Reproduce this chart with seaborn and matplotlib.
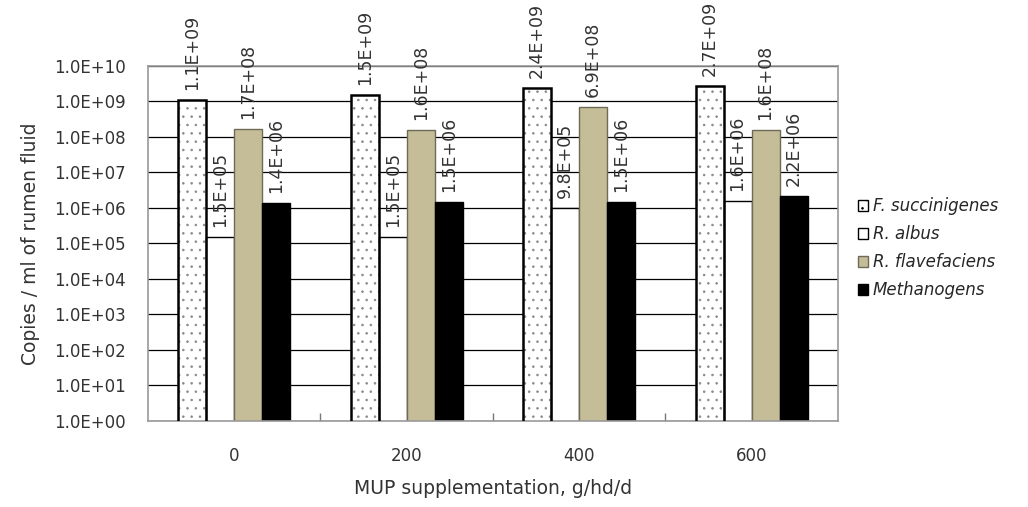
import matplotlib
matplotlib.use('Agg')
import matplotlib.pyplot as plt
import matplotlib.ticker as mticker
from matplotlib.patches import Rectangle
import seaborn as sns
import pandas as pd

doses = ['0', '200', '400', '600']
species = ['F. succinigenes', 'R. albus', 'R. flavefaciens', 'Methanogens']
f_succ = [1.1e9, 1.5e9, 2.4e9, 2.7e9]
r_albus = [1.5e5, 1.5e5, 9.8e5, 1.6e6]
r_flav = [1.7e8, 1.6e8, 6.9e8, 1.6e8]
methano = [1.4e6, 1.5e6, 1.5e6, 2.2e6]

sns.set_theme(style='white')
plt.rcParams['font.family'] = ['DejaVu Sans']
plt.rcParams['hatch.linewidth'] = 0.6

rows = []
for name, vals in zip(species, [f_succ, r_albus, r_flav, methano]):
    for d, v in zip(doses, vals):
        rows.append({'Dose': d, 'Species': name, 'Copies': v})
df = pd.DataFrame(rows)

fills = ['white', 'white', '#C4BD97', 'black']
edges = ['black', 'black', '#6e6a58', 'black']
txt = '#333333'

fig = plt.figure(figsize=(10.28, 5.07), dpi=100)
ax = fig.add_axes([0.144, 0.170, 0.671, 0.700])
ax.set_yscale('log')
sns.barplot(data=df, x='Dose', y='Copies', hue='Species', hue_order=species,
            order=doses, palette=fills, saturation=1, width=0.65, legend=False, ax=ax)

for i, cont in enumerate(ax.containers):
    for bar in cont:
        bar.set_zorder(2)
        if i == 0:
            # gray dotted fill, black outline drawn on top
            bar.set_hatch('..')
            bar.set_edgecolor('#8a8a8a')
            bar.set_linewidth(0)
            ax.add_patch(Rectangle(bar.get_xy(), bar.get_width(), bar.get_height(),
                                   fill=False, edgecolor='black', linewidth=1.8,
                                   zorder=3))
        else:
            bar.set_edgecolor(edges[i])
            bar.set_linewidth(1.0)
    labels = ['%.1E' % b.get_height() for b in cont]
    ax.bar_label(cont, labels=labels, rotation=90, padding=7, fontsize=12.5,
                 color=txt)

ax.set_ylim(1, 1e10)
ax.set_xlim(-0.5, 3.5)
ax.yaxis.set_major_locator(mticker.LogLocator(base=10, numticks=12))
ax.yaxis.set_minor_locator(mticker.NullLocator())
ax.yaxis.set_major_formatter(mticker.FuncFormatter(lambda v, p: '%.1E' % v))
ax.grid(axis='y', color='black', linewidth=0.9, zorder=0.5)
ax.set_axisbelow(True)
for s in ax.spines.values():
    s.set_color('#999999')
    s.set_linewidth(1.2)
ax.tick_params(axis='y', length=0, labelsize=12, pad=16, colors=txt)
ax.tick_params(axis='x', length=0, labelsize=12, pad=19, colors=txt)
ax.set_xticks([0.5, 1.5, 2.5], minor=True)
ax.tick_params(axis='x', which='minor', bottom=True, direction='in', length=6,
               color='#777777', width=1)

ax.set_ylabel('Copies / ml of rumen fluid', fontsize=13.5, color=txt, labelpad=10)
ax.set_xlabel('MUP supplementation, g/hd/d', fontsize=13.5, color=txt, labelpad=10)

handles = []
for i in range(4):
    h = Rectangle((0, 0), 1, 1, facecolor=fills[i], edgecolor=edges[i],
                  linewidth=1.0, hatch='..' if i == 0 else None)
    handles.append(h)
fig.legend(handles, species, loc='center left', bbox_to_anchor=(0.82, 0.51),
           frameon=False, handlelength=0.6, handleheight=0.6, handletextpad=0.3,
           labelspacing=0.6, prop={'style': 'italic', 'size': 12})

plt.savefig('out.png', dpi=100)
